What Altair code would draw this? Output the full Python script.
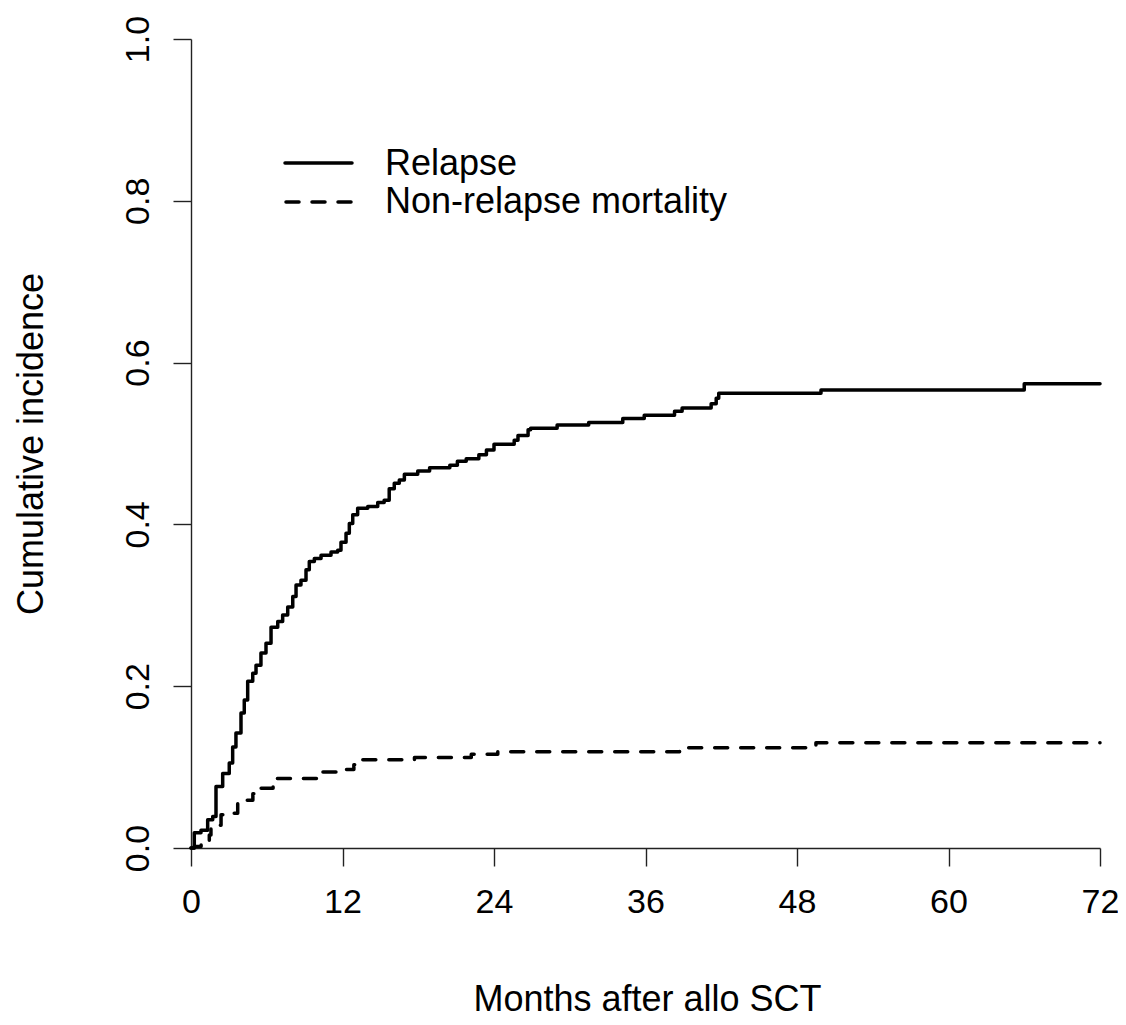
import altair as alt
import pandas as pd

# ---- data ----
series_names = ["Relapse", "Non-relapse mortality"]

relapse_months = [0, 0.26, 0.79, 1.32, 1.72, 1.98, 2.51, 3.03, 3.30, 3.56, 3.96, 4.22,
                  4.49, 4.89, 5.15, 5.54, 5.94, 6.34, 6.87, 7.26, 7.66, 8.06, 8.32, 8.71,
                  9.11, 9.37, 9.77, 10.30, 11.09, 11.62, 11.88, 12.28, 12.54, 12.81, 13.20,
                  14.0, 14.79, 15.3, 15.7, 16.1, 16.5, 16.9, 17.96, 18.9, 20.5, 21.1, 21.8,
                  22.8, 23.4, 24.0, 25.6, 25.9, 26.7, 26.9, 29.0, 31.5, 34.2, 35.9, 38.3,
                  38.9, 41.2, 41.6, 41.8, 49.9, 66.0, 72.0]
relapse_ci = [0, 0.019, 0.022, 0.035, 0.039, 0.076, 0.092, 0.105, 0.125, 0.142, 0.167, 0.183,
              0.206, 0.216, 0.226, 0.241, 0.253, 0.273, 0.280, 0.288, 0.298, 0.311, 0.325, 0.331,
              0.344, 0.354, 0.358, 0.362, 0.366, 0.368, 0.378, 0.389, 0.401, 0.412, 0.420,
              0.422, 0.427, 0.430, 0.444, 0.451, 0.455, 0.462, 0.466, 0.470, 0.473, 0.478, 0.481,
              0.486, 0.492, 0.499, 0.504, 0.510, 0.517, 0.519, 0.523, 0.526, 0.531, 0.535, 0.540,
              0.544, 0.549, 0.556, 0.562, 0.566, 0.574, 0.574]

nrm_months = [0, 0.26, 0.8, 1.45, 1.58, 2.38, 3.17, 3.7, 4.9, 5.5, 6.5, 10.3, 12.3, 12.9,
              13.6, 17.7, 22.2, 24.3, 38.7, 49.5, 72.0]
nrm_ci = [0, 0.002, 0.008, 0.016, 0.028, 0.041, 0.043, 0.059, 0.067, 0.074, 0.086, 0.094,
          0.097, 0.103, 0.109, 0.112, 0.116, 0.119, 0.124, 0.130, 0.130]

x_ticks = [0, 12, 24, 36, 48, 60, 72]
y_ticks = [0.0, 0.2, 0.4, 0.6, 0.8, 1.0]
x_title = "Months after allo SCT"
y_title = "Cumulative incidence"

FONT = "Liberation Sans"
AXIS_COLOR = "#222222"
DASH_SOLID = [1, 0]
DASH_DASHED = [13, 13]

df = pd.concat([
    pd.DataFrame({"month": relapse_months, "ci": relapse_ci, "series": series_names[0]}),
    pd.DataFrame({"month": nrm_months, "ci": nrm_ci, "series": series_names[1]}),
], ignore_index=True)

dash_scale = alt.Scale(domain=series_names, range=[DASH_SOLID, DASH_DASHED])

x_enc = alt.X(
    "month:Q",
    scale=alt.Scale(domain=[0, 72], nice=False, zero=True),
    axis=alt.Axis(
        values=x_ticks, title=x_title, labelFlush=False, labelPadding=19,
        labelBaseline="top", titleX=456, titleY=162, titleAlign="center",
        titleBaseline="alphabetic",
    ),
)
y_enc = alt.Y(
    "ci:Q",
    scale=alt.Scale(domain=[0, 1], nice=False),
    axis=alt.Axis(
        values=y_ticks, format=".1f", title=y_title, labelAngle=270,
        labelAlign="center", labelBaseline="alphabetic", labelPadding=25,
        labelFlush=False, titleAngle=270, titleX=-149, titleY=404.5,
        titleAlign="center", titleBaseline="alphabetic",
    ),
)

lines = alt.Chart(df).mark_line(
    interpolate="step-after", color="black", strokeWidth=3.5,
    strokeCap="round", strokeJoin="round",
).encode(
    x=x_enc,
    y=y_enc,
    strokeDash=alt.StrokeDash("series:N", scale=dash_scale, legend=None),
    order=alt.Order("month:Q"),
)

# ---- manual legend (R-style) ----
leg1 = pd.DataFrame({"label": [series_names[0]]})
leg2 = pd.DataFrame({"label": [series_names[1]]})

leg_line1 = alt.Chart(leg1).mark_rule(
    color="black", strokeWidth=3.5, strokeCap="round", strokeDash=DASH_SOLID
).encode(x=alt.value(94), x2=alt.value(161), y=alt.value(124))
leg_line2 = alt.Chart(leg2).mark_rule(
    color="black", strokeWidth=3.5, strokeCap="round", strokeDash=DASH_DASHED
).encode(x=alt.value(95), x2=alt.value(161), y=alt.value(163))

leg_text1 = alt.Chart(leg1).mark_text(
    align="left", baseline="alphabetic", font=FONT, fontSize=36, color="black"
).encode(x=alt.value(194), y=alt.value(136), text="label:N")
leg_text2 = alt.Chart(leg2).mark_text(
    align="left", baseline="alphabetic", font=FONT, fontSize=36, color="black"
).encode(x=alt.value(194), y=alt.value(174), text="label:N")

chart = alt.layer(
    lines, leg_line1, leg_line2, leg_text1, leg_text2
).properties(
    width=909,
    height=809,
    padding={"left": 183, "top": 31, "right": 18, "bottom": 169},
    autosize=alt.AutoSizeParams(type="none"),
    background="white",
).configure_view(
    stroke=None
).configure_axis(
    grid=False,
    domainColor=AXIS_COLOR,
    domainWidth=1.4,
    tickColor=AXIS_COLOR,
    tickWidth=1.4,
    tickSize=18,
    labelFont=FONT,
    labelFontSize=34,
    labelColor="black",
    titleFont=FONT,
    titleFontSize=36,
    titleFontWeight="normal",
    titleColor="black",
)

chart.save("out.html", embed_options={"renderer": "svg", "actions": False})
